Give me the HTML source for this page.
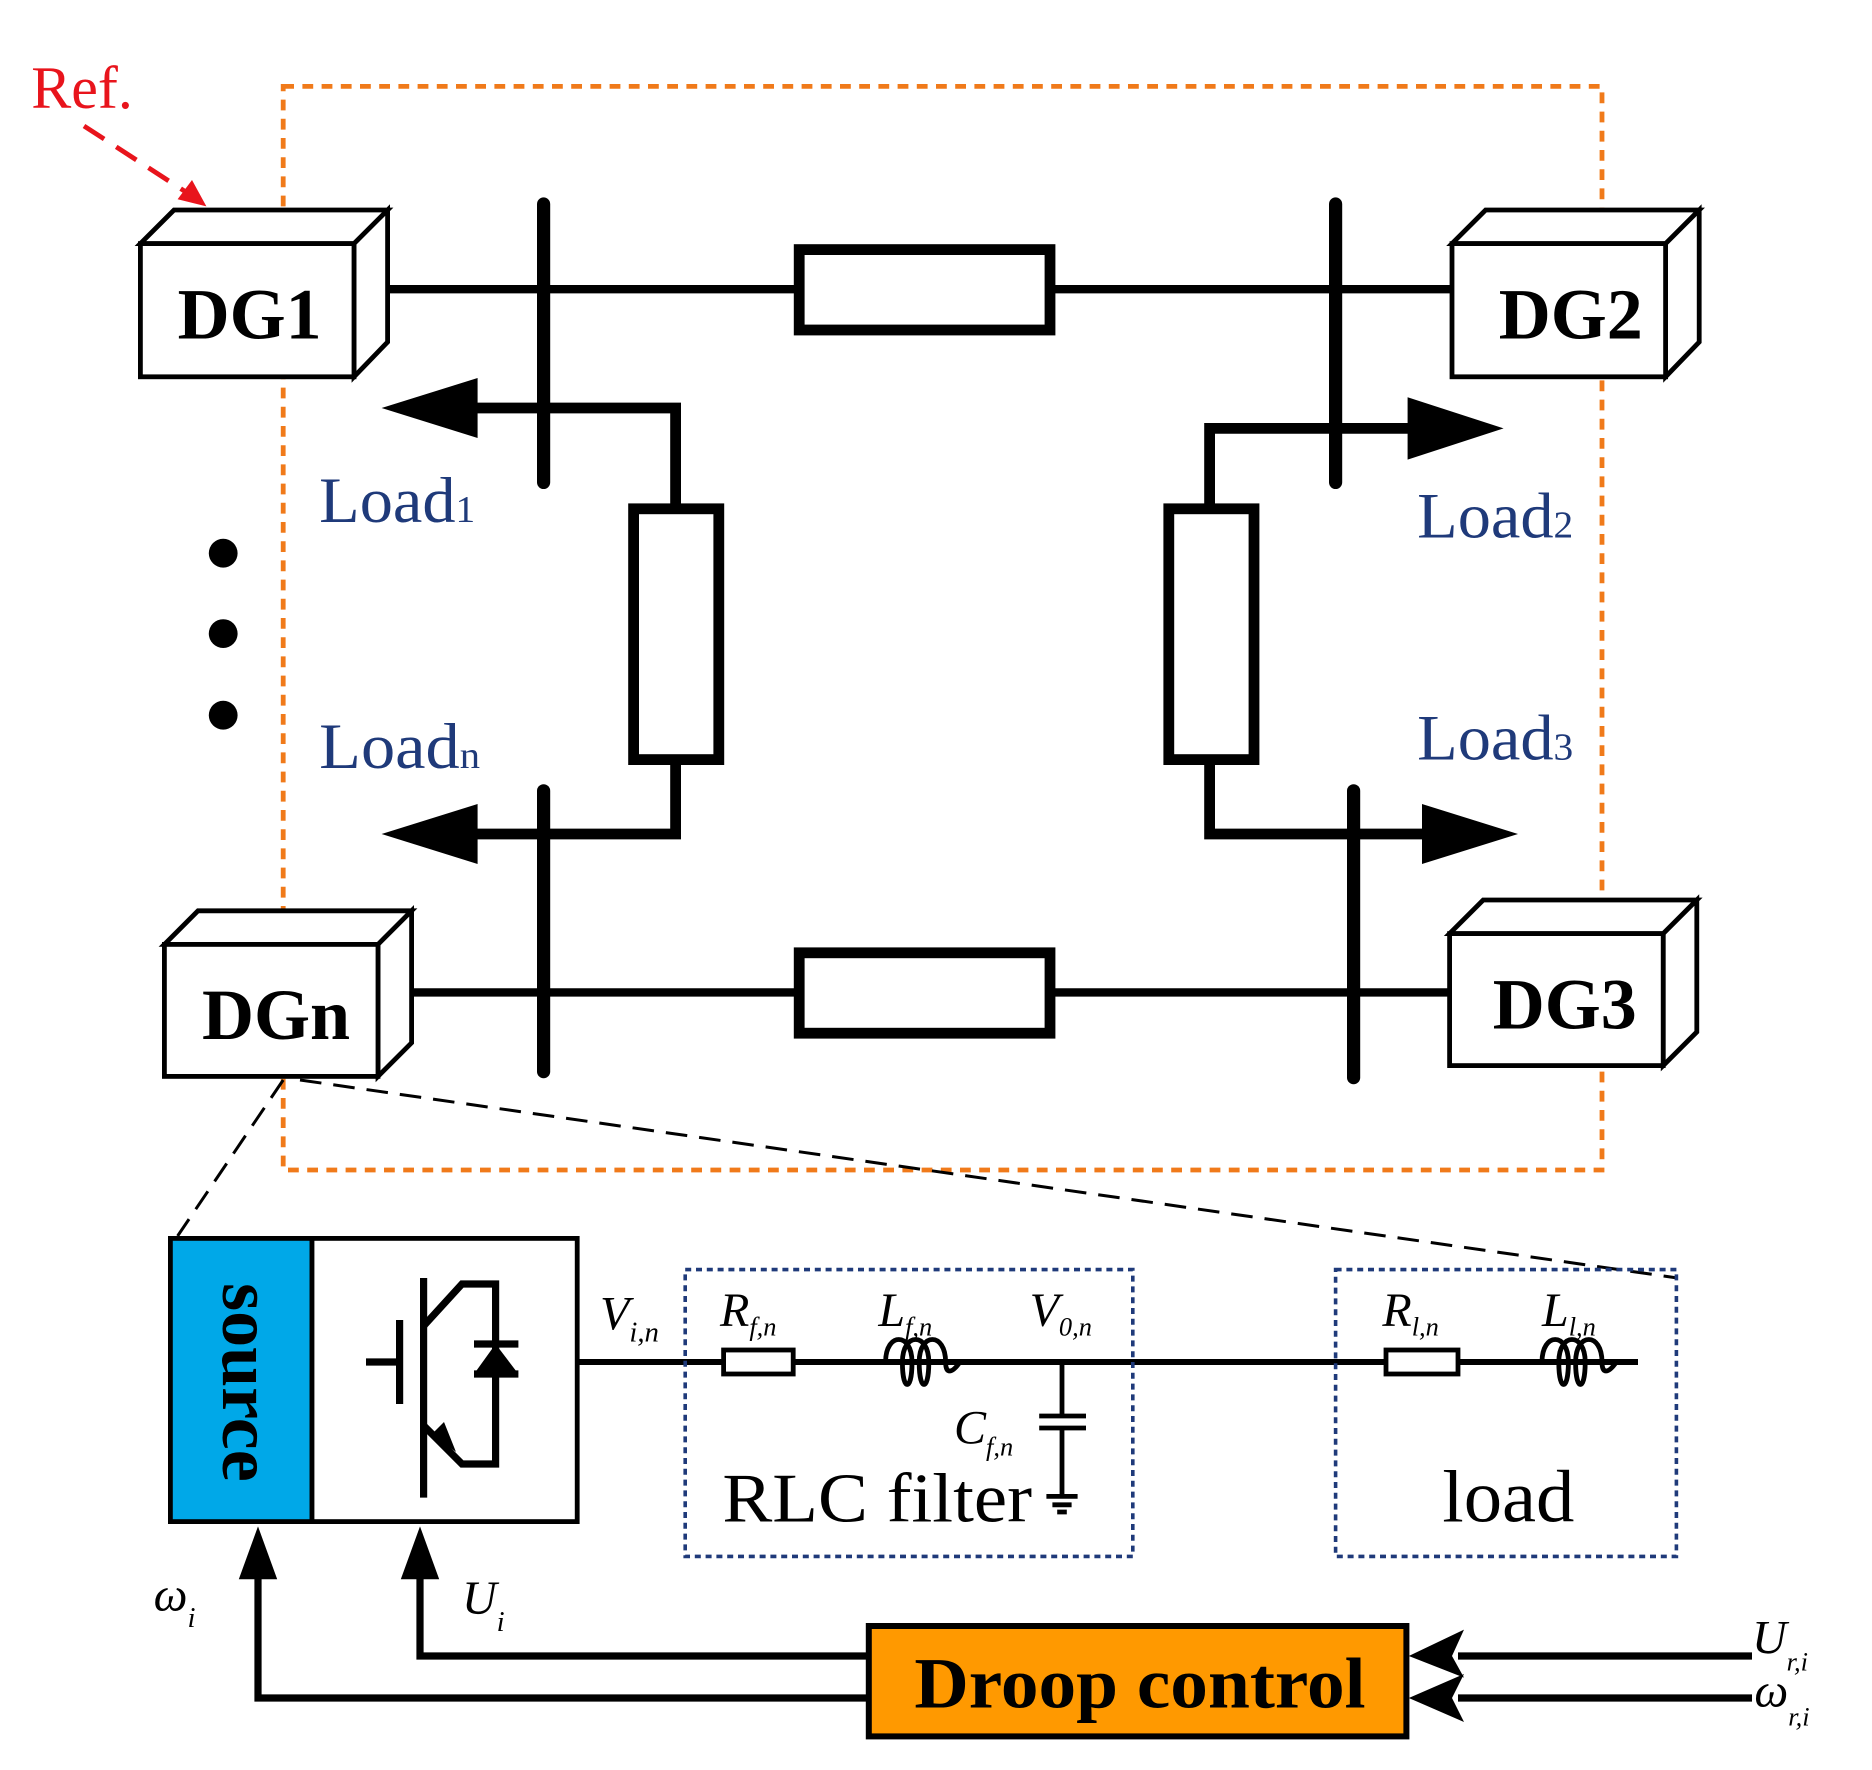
<!DOCTYPE html>
<html><head><style>html,body{margin:0;padding:0;background:#fff}svg{display:block}</style></head><body>
<svg width="1872" height="1770" viewBox="0 0 1560 1475" preserveAspectRatio="none" xmlns="http://www.w3.org/2000/svg" font-family="Liberation Serif, serif">
<rect x="236" y="72" width="1099" height="903" fill="none" stroke="#f07a1a" stroke-width="4" stroke-dasharray="9,7"/>
<text x="26" y="90" font-size="50" fill="#e8141c">Ref.</text>
<line x1="70" y1="105" x2="158" y2="162" stroke="#e8141c" stroke-width="4" stroke-dasharray="20,12"/>
<polygon points="172,172 148,166 160,150" fill="#e8141c"/>
<g stroke="#000" stroke-width="4" fill="#fff">
<path d="M117,203 L145,175 L323,175 L295,203 Z M295,203 L323,175 L323,285 L295,314 Z"/><rect x="117" y="203" width="178" height="111"/>
<path d="M1210,203 L1238,175 L1416,175 L1388,203 Z M1388,203 L1416,175 L1416,285 L1388,314 Z"/><rect x="1210" y="203" width="178" height="111"/>
<path d="M137,787 L165,759 L343,759 L315,787 Z M315,787 L343,759 L343,869 L315,897 Z"/><rect x="137" y="787" width="178" height="110"/>
<path d="M1208,778 L1236,750 L1414,750 L1386,778 Z M1386,778 L1414,750 L1414,860 L1386,888 Z"/><rect x="1208" y="778" width="178" height="110"/>
</g>
<g font-weight="bold" font-size="60" text-anchor="middle"><text x="208" y="282">DG1</text><text x="1309" y="282">DG2</text><text x="230" y="866">DGn</text><text x="1304" y="857">DG3</text></g>
<g stroke="#000" fill="none">
<line x1="323" y1="241" x2="1210" y2="241" stroke-width="7"/>
<line x1="343" y1="827" x2="1208" y2="827" stroke-width="7"/>
<rect x="666" y="208" width="209" height="67" fill="#fff" stroke-width="9"/>
<rect x="666" y="794" width="209" height="67" fill="#fff" stroke-width="9"/>
<g stroke-width="11" stroke-linecap="round"><line x1="453" y1="170" x2="453" y2="402"/><line x1="1113" y1="170" x2="1113" y2="402"/><line x1="453" y1="659" x2="453" y2="893"/><line x1="1128" y1="659" x2="1128" y2="898"/></g>
<path d="M563,424 V340 H395 M563,632 V695 H395 M1008,424 V357 H1178 M1008,632 V695 H1190" stroke-width="9"/>
<rect x="528" y="424" width="71" height="209" fill="#fff" stroke-width="9"/>
<rect x="974" y="424" width="71" height="209" fill="#fff" stroke-width="9"/>
</g>
<g fill="#000"><polygon points="318,340 398,315 398,365"/><polygon points="318,695 398,670 398,720"/><polygon points="1253,357 1173,331 1173,383"/><polygon points="1265,695 1185,670 1185,720"/>
<circle cx="186" cy="461" r="12"/><circle cx="186" cy="528" r="12"/><circle cx="186" cy="596" r="12"/></g>
<g fill="#1f3a7a" font-size="54"><text x="266" y="435" textLength="130" lengthAdjust="spacingAndGlyphs">Load<tspan font-size="32">1</tspan></text><text x="1181" y="448" textLength="130" lengthAdjust="spacingAndGlyphs">Load<tspan font-size="32">2</tspan></text><text x="266" y="640" textLength="134" lengthAdjust="spacingAndGlyphs">Load<tspan font-size="32">n</tspan></text><text x="1181" y="633" textLength="130" lengthAdjust="spacingAndGlyphs">Load<tspan font-size="32">3</tspan></text></g>
<g stroke="#000" stroke-width="2.5" stroke-dasharray="18,10"><line x1="236" y1="900" x2="148" y2="1030"/><line x1="250" y1="900" x2="1398" y2="1065"/></g>
<rect x="142" y="1032" width="118" height="236" fill="#00a8e8" stroke="#000" stroke-width="4"/>
<rect x="260" y="1032" width="221" height="236" fill="#fff" stroke="#000" stroke-width="4"/>
<text transform="translate(186,1152) rotate(90)" text-anchor="middle" font-size="60" font-weight="bold">source</text>
<g stroke="#000" stroke-width="6" fill="none">
<line x1="305" y1="1135" x2="330" y2="1135"/><line x1="333" y1="1100" x2="333" y2="1170"/><line x1="353" y1="1065" x2="353" y2="1248"/>
<path d="M353,1105 L385,1070 H413 V1220 H385 L353,1188"/>
<path d="M395,1145 H432 M395,1120 H432"/>
</g>
<polygon points="413,1120 395,1145 432,1145" fill="#000"/>
<polygon points="380,1210 360,1195 370,1185" fill="#000"/>
<line x1="481" y1="1135" x2="1365" y2="1135" stroke="#000" stroke-width="5"/>
<g stroke="#1f3a7a" stroke-width="3" fill="none" stroke-dasharray="5,4"><rect x="571" y="1058" width="373" height="239"/><rect x="1113" y="1058" width="284" height="239"/></g>
<g stroke="#000" stroke-width="4" fill="#fff">
<rect x="603" y="1125" width="58" height="20"/><rect x="1155" y="1125" width="60" height="20"/>
<path d="M738,1135 c0,-25 22,-25 22,0 c0,25 -8,25 -8,0 c0,-25 22,-25 22,0 c0,25 -8,25 -8,0 c0,-25 22,-25 22,0 c0,10 5,10 12,0" fill="none"/>
<path d="M1285,1135 c0,-25 22,-25 22,0 c0,25 -8,25 -8,0 c0,-25 22,-25 22,0 c0,25 -8,25 -8,0 c0,-25 22,-25 22,0 c0,10 5,10 12,0" fill="none"/>
<path d="M885,1135 V1178 M866,1180 H905 M866,1190 H905 M885,1192 V1245 M872,1247 H898 M877,1254 H893 M881,1260 H889" fill="none"/>
</g>
<g font-style="italic" font-size="40"><text x="500" y="1108">V<tspan font-size="24" dy="10">i,n</tspan></text><text x="600" y="1105">R<tspan font-size="22" dy="8">f,n</tspan></text><text x="732" y="1105">L<tspan font-size="22" dy="8">f,n</tspan></text><text x="858" y="1105">V<tspan font-size="22" dy="8">0,n</tspan></text><text x="795" y="1203">C<tspan font-size="22" dy="10">f,n</tspan></text><text x="1152" y="1105">R<tspan font-size="22" dy="8">l,n</tspan></text><text x="1285" y="1105">L<tspan font-size="22" dy="8">l,n</tspan></text>
<text x="128" y="1342">ω<tspan font-size="24" dy="14">i</tspan></text><text x="385" y="1345">U<tspan font-size="24" dy="14">i</tspan></text><text x="1460" y="1378">U<tspan font-size="22" dy="14">r,i</tspan></text><text x="1462" y="1422">ω<tspan font-size="22" dy="16">r,i</tspan></text></g>
<text x="602" y="1268" font-size="58" textLength="258" lengthAdjust="spacingAndGlyphs">RLC filter</text><text x="1202" y="1268" font-size="62" textLength="110" lengthAdjust="spacingAndGlyphs">load</text>
<rect x="724" y="1355" width="448" height="92" fill="#ff9900" stroke="#000" stroke-width="5"/>
<text x="762" y="1423" font-size="60" font-weight="bold" textLength="376" lengthAdjust="spacingAndGlyphs">Droop control</text>
<g stroke="#000" stroke-width="6" fill="none"><path d="M724,1380 H350 V1300 M724,1415 H215 V1300 M1460,1380 H1215 M1460,1415 H1215"/></g>
<g fill="#000"><polygon points="350,1272 334,1316 366,1316"/><polygon points="215,1272 199,1316 231,1316"/><polygon points="1174,1380 1220,1358 1210,1380 1220,1398"/><polygon points="1174,1415 1220,1395 1210,1415 1220,1435"/></g>
</svg>
</body></html>
